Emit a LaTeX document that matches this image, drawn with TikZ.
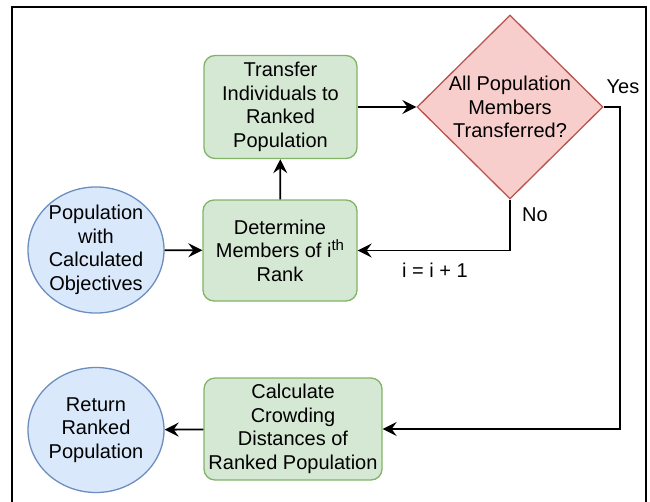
\documentclass[tikz,border=0pt]{standalone}
\usepackage{fontspec}
\setmainfont{Liberation Sans}
\usetikzlibrary{shapes.geometric,arrows.meta}
\definecolor{gfill}{HTML}{D5E8D4}
\definecolor{gline}{HTML}{82B366}
\definecolor{bfill}{HTML}{DAE8FC}
\definecolor{bline}{HTML}{6C8EBF}
\definecolor{rfill}{HTML}{F8CECC}
\definecolor{rline}{HTML}{B85450}
\begin{document}
\begin{tikzpicture}[x=1pt,y=-1pt,
  txt/.style={font=\fontsize{20}{23.5}\selectfont, align=center, text=black},
  procbox/.style={txt, draw=gline, fill=gfill, line width=1.3pt, rounded corners=11pt, inner sep=0pt},
  termcirc/.style={txt, ellipse, draw=bline, fill=bfill, line width=1.3pt, inner sep=0pt, minimum width=136pt, minimum height=125pt},
  decision/.style={diamond, draw=rline, fill=rfill, line width=1.3pt, inner sep=0pt, minimum width=186pt, minimum height=184pt},
  arr/.style={line width=1.8pt, -{Stealth[length=14pt,width=14pt,inset=5pt]}},
  lbl/.style={txt, inner sep=0pt}
]
\useasboundingbox (0,0) rectangle (650,501);
\draw[line width=2.2pt] (12,505) -- (12,7) -- (646,7) -- (646,505);

\node[termcirc] (pop) at (96,250) {Population\\with\\Calculated\\Objectives};
\node[procbox, minimum width=154pt, minimum height=101pt] (det) at (280,250.5) {Determine\\Members of i\raisebox{7pt}{\fontsize{15}{15}\selectfont th}\\Rank};
\node[procbox, minimum width=153pt, minimum height=103pt] (tra) at (280.5,107) {Transfer\\Individuals to\\Ranked\\Population};
\node[decision, label={[txt]center:{All Population\\Members\\Transferred?}}] (dia) at (510,107) {};
\node[procbox, minimum width=178pt, minimum height=102pt] (calc) at (293,429) {Calculate\\Crowding\\Distances of\\Ranked Population};
\node[termcirc] (ret) at (96,430) {Return\\Ranked\\Population};

\coordinate (yc) at (620,107);

\draw[arr] (pop) -- (det);
\draw[arr] (det) -- (tra);
\draw[arr] (tra) -- (dia);
\draw[arr] (dia.east) -- (yc) |- (calc.east);
\draw[arr] (dia.south) |- (det.east);
\draw[arr] (calc) -- (ret);

\node[lbl] (yes) at (623,87) {Yes};
\node[lbl] (no) at (535,215) {No};
\node[lbl] (inc) at (435,270) {i = i + 1};
\end{tikzpicture}
\end{document}
